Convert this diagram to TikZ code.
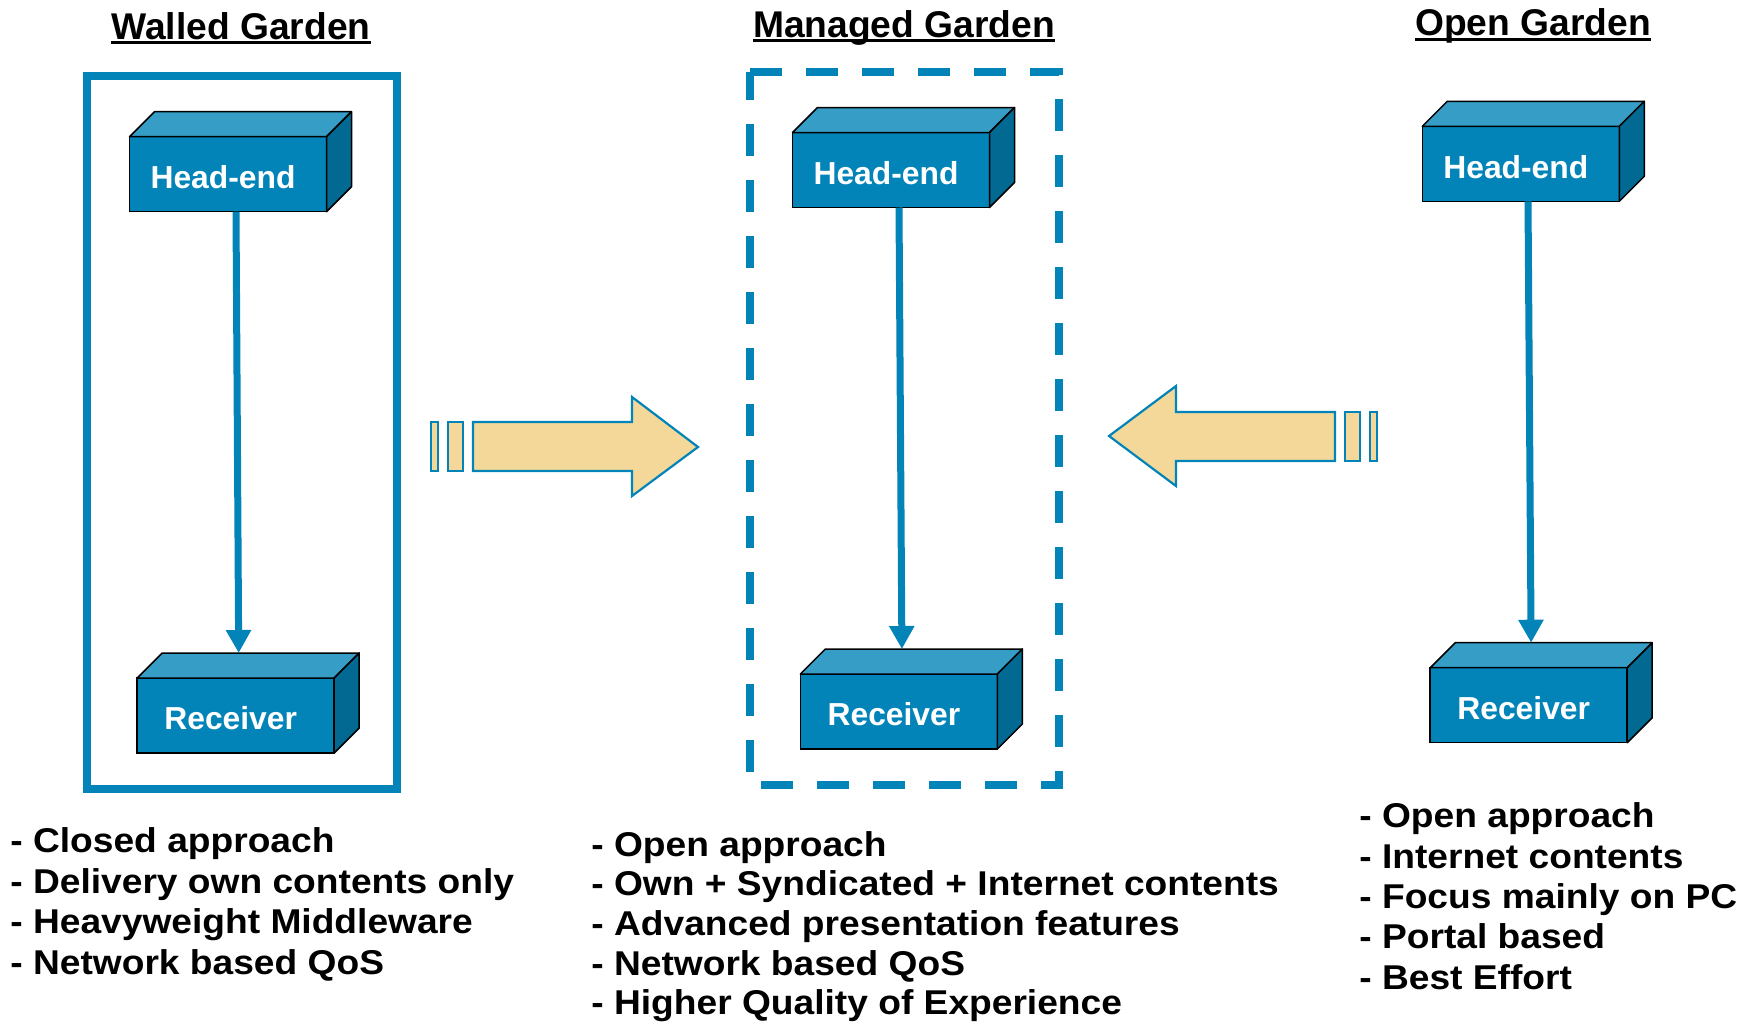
\documentclass[tikz,border=0pt]{standalone}
\usepackage{fontspec}
\setmainfont{Liberation Sans}
\newfontfamily\listfont{Liberation Sans}[FakeStretch=1.08]
\usetikzlibrary{arrows.meta}

\definecolor{gardenblue}{RGB}{2,132,185}
\definecolor{cubetopblue}{RGB}{54,157,198}
\definecolor{cubesideblue}{RGB}{2,105,146}
\definecolor{wheatfill}{RGB}{243,216,154}

\newsavebox{\titlebox}
\newcommand{\titleline}[1]{\sbox{\titlebox}{#1}\rlap{\rule[-2.6pt]{\wd\titlebox}{1.5pt}}\usebox{\titlebox}}

\newcommand{\cubesides}[1]{
	\draw[cubeedge, fill=cubetopblue] (#1.north west) -- ([shift={(25,-25)}]#1.north west) -- ([shift={(25,-25)}]#1.north east) -- (#1.north east) -- cycle;
	\draw[cubeedge, fill=cubesideblue] (#1.north east) -- ([shift={(25,-25)}]#1.north east) -- ([shift={(25,-25)}]#1.south east) -- (#1.south east) -- cycle;
}

\begin{document}
\begin{tikzpicture}[x=0.5pt, y=-0.5pt,
	cube/.style = {draw=black, line width=0.75pt, fill=gardenblue, text=white, font=\fontsize{15.9pt}{18pt}\selectfont\bfseries, minimum width=98.5pt, minimum height=37.5pt, inner sep=0pt, outer sep=0pt, text height=14.4pt, text depth=0pt, execute at end node={\hspace*{5pt}}},
	cubeedge/.style = {draw=black, line width=0.75pt, line join=round},
	flow/.style = {draw=gardenblue, line width=3.5pt, -{Triangle[width=12pt,length=11.5pt]}},
	bigarrow/.style = {draw=gardenblue, line width=1.1pt, fill=wheatfill},
	title/.style = {anchor=base, inner sep=0pt, font=\fontsize{18.6pt}{22pt}\selectfont\bfseries},
	listitem/.style = {anchor=base west, inner sep=0pt, font=\listfont\fontsize{17.2pt}{20pt}\selectfont\bfseries}]
	\useasboundingbox (0,0) rectangle (1748,1023);

	\node[title] (walltitle) at (241,39) {\titleline{Walled Garden}};
	\node[title] (mantitle) at (904,37) {\titleline{Managed Garden}};
	\node[title] (opentitle) at (1533,35.7) {\titleline{Open Garden}};

	\draw[gardenblue, line width=4pt] (87,76) rectangle (397,789);
	\draw[gardenblue, line width=4pt, dash pattern=on 16pt off 12pt] (750,72) -- (1059,72) -- (1059,785) -- (750,785) -- cycle;

	\node[cube] (wallhead) at (228,174.2) {Head-end};
	\node[cube] (wallrecv) at (235.7,715.5) {Receiver};
	\node[cube] (manhead) at (891,170) {Head-end};
	\node[cube] (manrecv) at (898.9,711.5) {Receiver};
	\node[cube] (openhead) at (1520.8,163.8) {Head-end};
	\node[cube] (openrecv) at (1528.7,705.2) {Receiver};
	\foreach \c in {wallhead,wallrecv,manhead,manrecv,openhead,openrecv}{
		\cubesides{\c}
	}

	\draw[flow] ([xshift=4pt]wallhead.south) -- ([xshift=1.5pt,yshift=12.5pt]wallrecv.north);
	\draw[flow] ([xshift=4pt]manhead.south) -- ([xshift=1.5pt,yshift=12.5pt]manrecv.north);
	\draw[flow] ([xshift=3.6pt]openhead.south) -- ([xshift=1.2pt,yshift=12.5pt]openrecv.north);

	% walled -> managed
	\draw[bigarrow] (431,422) rectangle (438,471);
	\draw[bigarrow] (448,422) rectangle (463,471);
	\draw[bigarrow] (473,422) -- (632,422) -- (632,397) -- (698,447) -- (632,496) -- (632,471) -- (473,471) -- cycle;
	% open -> managed
	\draw[bigarrow] (1370,412) rectangle (1377,461);
	\draw[bigarrow] (1345,412) rectangle (1360,461);
	\draw[bigarrow] (1335,412) -- (1176,412) -- (1176,386) -- (1109,436) -- (1176,486) -- (1176,461) -- (1335,461) -- cycle;

	\foreach \t [count=\i from 0] in {Closed approach, Delivery own contents only, Heavyweight Middleware, Network based QoS}{
		\node[listitem] (walllist\i) at (10,852.3+40.7*\i) {- \t};
	}
	\foreach \t [count=\i from 0] in {Open approach, Own + Syndicated + Internet contents, Advanced presentation features, Network based QoS, Higher Quality of Experience}{
		\node[listitem] (manlist\i) at (591,856+39.7*\i) {- \t};
	}
	\foreach \t [count=\i from 0] in {Open approach, Internet contents, Focus mainly on PC, Portal based, Best Effort}{
		\node[listitem] (openlist\i) at (1359,827.7+40.4*\i) {- \t};
	}
\end{tikzpicture}
\end{document}
